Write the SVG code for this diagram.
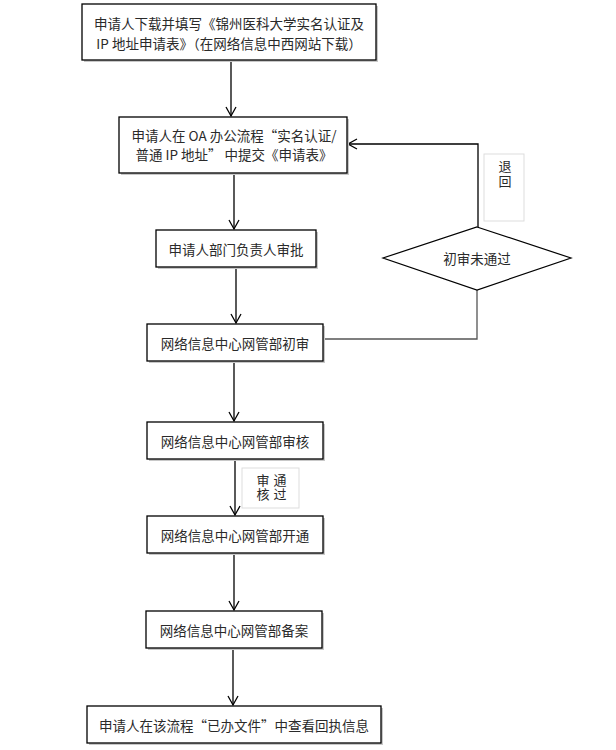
<svg xmlns="http://www.w3.org/2000/svg" width="616" height="750" viewBox="0 0 616 750">
<style>
.box{fill:#fff;stroke:#000;stroke-width:1.3}
.sh{fill:#c8c8c8}
.t{font-family:"Noto Sans CJK SC","Liberation Sans",sans-serif;font-size:13.5px;fill:#2a2a2a;text-anchor:middle;dominant-baseline:central}
.v{writing-mode:vertical-rl;font-size:13px}
.c{fill:none;stroke:#000;stroke-width:1.3}
.cg{fill:none;stroke:#555;stroke-width:1.3}
.lb{fill:#fff;stroke:#ddd;stroke-width:1}
</style>
<defs>
<marker id="ah" markerWidth="12" markerHeight="12" refX="10" refY="6" orient="auto" markerUnits="userSpaceOnUse">
<path d="M1,1 L10,6 L1,11" fill="none" stroke="#000" stroke-width="1.3"/>
</marker>
</defs>
<rect width="616" height="750" fill="#fff"/>
<g id="connectors">
<line class="c" x1="231" y1="60" x2="231" y2="116" marker-end="url(#ah)"/>
<line class="c" x1="234" y1="173" x2="234" y2="229" marker-end="url(#ah)"/>
<line class="c" x1="236" y1="267" x2="236" y2="323" marker-end="url(#ah)"/>
<line class="c" x1="234" y1="361" x2="234" y2="421" marker-end="url(#ah)"/>
<line class="c" x1="235" y1="459" x2="235" y2="515" marker-end="url(#ah)"/>
<line class="c" x1="234" y1="553" x2="234" y2="610" marker-end="url(#ah)"/>
<line class="c" x1="233" y1="648" x2="233" y2="705" marker-end="url(#ah)"/>
<polyline class="cg" points="323,339 477,339 477,290"/>
<polyline class="c" points="478,227 478,144 348,144" marker-end="url(#ah)"/>
</g>
<g id="label-return">
<rect class="lb" x="484" y="154" width="40" height="67"/>
<text class="t v" x="505" y="175" letter-spacing="2">退回</text>
</g>
<g id="label-pass">
<rect class="lb" x="242" y="468" width="57" height="40"/>
<text class="t v" x="263" y="488" letter-spacing="1">审核</text>
<text class="t v" x="280" y="488" letter-spacing="1">通过</text>
</g>
<g id="n1">
<rect class="sh" x="84" y="6" width="294" height="56"/>
<rect class="box" x="82" y="4" width="294" height="56"/>
<text class="t" x="229" y="23">申请人下载并填写《锦州医科大学实名认证及</text>
<text class="t" x="229" y="43">IP 地址申请表》（在网络信息中西网站下载）</text>
</g>
<g id="n2">
<rect class="sh" x="121" y="119" width="228" height="56"/>
<rect class="box" x="119" y="117" width="228" height="56"/>
<text class="t" x="234" y="135">申请人在 OA 办公流程“实名认证/</text>
<text class="t" x="234" y="154">普通 IP 地址” 中提交《申请表》</text>
</g>
<g id="n3">
<rect class="sh" x="158" y="232" width="160" height="37"/>
<rect class="box" x="156" y="230" width="160" height="37"/>
<text class="t" x="236" y="249">申请人部门负责人审批</text>
</g>
<g id="n4">
<rect class="sh" x="149" y="326" width="176" height="37"/>
<rect class="box" x="147" y="324" width="176" height="37"/>
<text class="t" x="235" y="343">网络信息中心网管部初审</text>
</g>
<g id="n5">
<rect class="sh" x="149" y="424" width="176" height="37"/>
<rect class="box" x="147" y="422" width="176" height="37"/>
<text class="t" x="235" y="441">网络信息中心网管部审核</text>
</g>
<g id="n6">
<rect class="sh" x="149" y="518" width="176" height="37"/>
<rect class="box" x="147" y="516" width="176" height="37"/>
<text class="t" x="235" y="535">网络信息中心网管部开通</text>
</g>
<g id="n7">
<rect class="sh" x="148" y="613" width="176" height="37"/>
<rect class="box" x="146" y="611" width="176" height="37"/>
<text class="t" x="234" y="630">网络信息中心网管部备案</text>
</g>
<g id="n8">
<rect class="sh" x="89" y="708" width="294" height="37"/>
<rect class="box" x="87" y="706" width="294" height="37"/>
<text class="t" x="234" y="725">申请人在该流程“已办文件”中查看回执信息</text>
</g>
<g id="d1">
<polygon points="477,227 571,258 477,290 383,258" fill="#fff" stroke="#000" stroke-width="1.2"/>
<text class="t" x="477" y="258">初审未通过</text>
</g>
</svg>
